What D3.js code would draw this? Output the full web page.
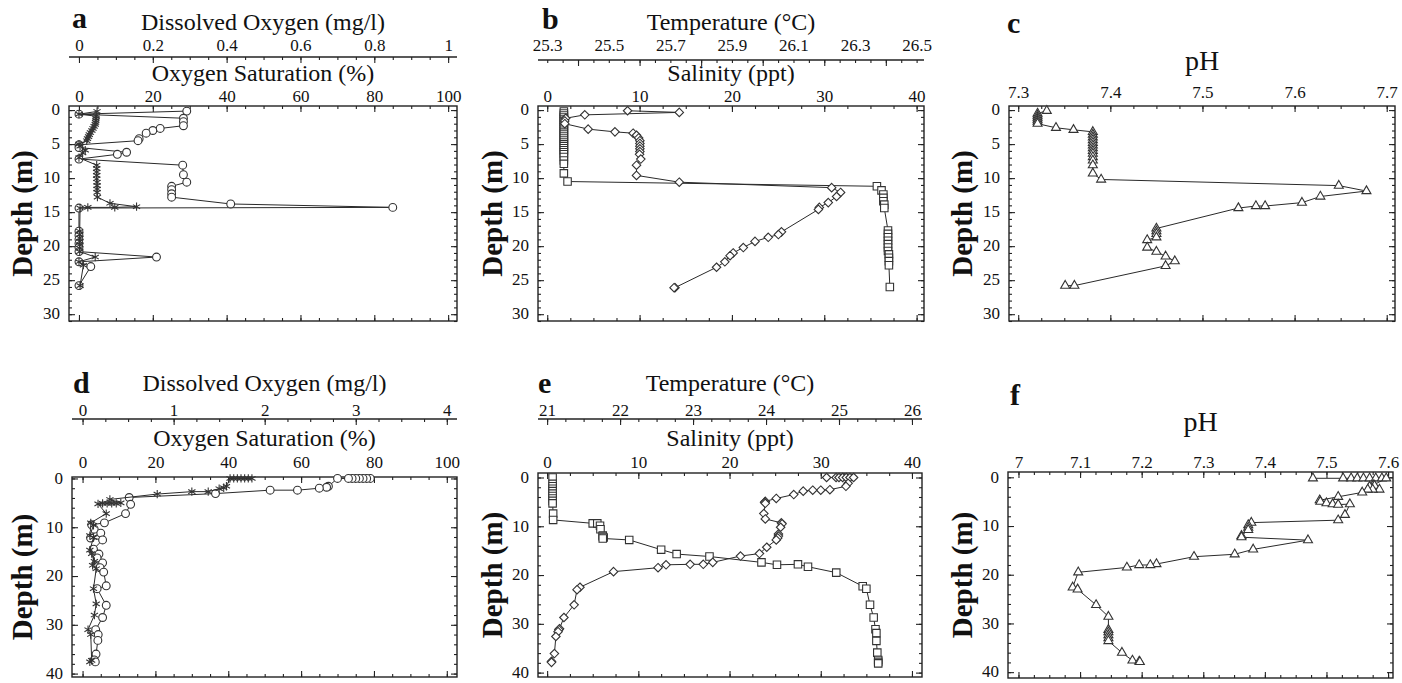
<!DOCTYPE html>
<html>
<head>
<meta charset="utf-8">
<script src="https://cdn.jsdelivr.net/npm/d3@7"></script>
<style>
  body { margin: 0; background: #fff; }
</style>
</head>
<body>
<div id="chart"></div>
<script>
//--------------------------------------------------------------
// DATA  (each pair is [depth m, value])
//--------------------------------------------------------------
// panel a - oxygen saturation (%) and dissolved oxygen (mg/l)
var aSaturation = [[0.15,29.2],[0.6,0],[1.2,28.3],[1.7,28.3],[2.3,28.3],[2.7,22],[3.0,20],[3.4,18.2],[4.2,16.3],[4.5,16],
  [5.1,0],[5.5,0],[6.2,12.9],[6.5,10.4],[7.2,0],[8.1,28.1],[9.5,28.3],[10.6,29.2],[11.2,25.1],[11.7,25.1],[12.3,25.1],
  [12.8,25.1],[13.8,41.1],[14.3,85],[14.4,0],[17.8,0],[18.4,0],[19.0,0],[19.6,0],[20.2,0],[20.8,0],[21.6,21],[22.3,0],
  [23.0,3.2],[25.8,0]];
var aOxygen = [[0.2,0.049],[0.6,0.0],[0.9,0.047],[1.2,0.046],[1.5,0.046],[1.8,0.045],[2.1,0.044],[2.4,0.041],[2.7,0.038],
  [3.0,0.035],[3.3,0.031],[3.6,0.028],[3.9,0.026],[4.2,0.023],[4.5,0.021],[5.0,0.0],[5.3,0.003],[5.9,0.017],[6.3,0.01],
  [7.0,0.0],[8.1,0.048],[8.6,0.048],[9.1,0.048],[9.6,0.048],[10.1,0.048],[10.6,0.049],[11.1,0.049],[11.6,0.049],
  [12.1,0.049],[12.8,0.05],[13.7,0.084],[14.2,0.156],[14.3,0.097],[14.3,0.024],[14.4,0.003],[17.8,0.002],
  [18.3,0.002],[18.8,0.002],[19.3,0.002],[19.8,0.002],[20.3,0.002],[20.8,0.002],[21.6,0.044],[22.3,0.0],[22.8,0.012],
  [25.8,0.003]];

// panel b - salinity (ppt) and temperature (C)
var bSalinity = [[0.2,1.8],[0.5,1.8],[0.8,1.8],[1.1,1.8],[1.4,1.8],[1.7,1.8],[2.0,1.8],[2.3,1.8],[2.6,1.8],[2.9,1.8],
  [3.2,1.8],[3.5,1.8],[3.8,1.8],[4.1,1.8],[4.4,1.8],[4.7,1.8],[5.0,1.8],[5.3,1.8],[5.6,1.8],[5.9,1.8],[6.2,1.8],[6.5,1.8],
  [6.9,1.8],[7.4,1.8],[7.9,1.8],[9.3,1.8],[10.5,2.2],[11.2,35.7],[11.8,36.2],[12.4,36.4],[12.9,36.4],[13.4,36.4],
  [13.9,36.5],[14.4,36.5],[17.7,36.9],[18.2,36.9],[18.7,36.9],[19.2,36.9],[19.7,36.9],[20.2,36.9],[20.7,36.9],
  [21.2,37.0],[21.7,37.0],[22.2,37.0],[22.8,37.0],[26.0,37.1]];
var bTemperature = [[0.1,25.561],[0.34,25.729],[0.7,25.422],[1.2,25.36],[1.6,25.357],[2.0,25.357],[2.8,25.433],
  [3.2,25.52],[3.4,25.579],[3.7,25.59],[4.1,25.597],[4.5,25.601],[4.9,25.601],[5.3,25.601],[5.7,25.601],[6.1,25.601],
  [6.5,25.6],[7.2,25.604],[8.1,25.59],[9.6,25.59],[10.6,25.729],[11.4,26.224],[12.1,26.253],[12.7,26.24],[13.6,26.213],
  [14.3,26.184],[14.6,26.181],[17.9,26.061],[18.3,26.051],[18.7,26.018],[19.3,25.975],[20.2,25.937],[21.0,25.904],
  [21.4,25.894],[22.3,25.877],[23.1,25.85],[26.1,25.715],[26.1,25.712]];

// panel c - pH
var cPH = [[0.1,7.331],[0.5,7.321],[0.8,7.321],[1.1,7.321],[1.4,7.321],[1.7,7.321],[2.0,7.321],[2.6,7.341],[2.9,7.36],
  [3.2,7.381],[3.6,7.381],[4.0,7.381],[4.4,7.381],[4.8,7.381],[5.2,7.381],[5.6,7.381],[6.0,7.381],[6.4,7.381],
  [6.9,7.381],[7.4,7.381],[8.1,7.381],[9.3,7.381],[10.2,7.39],[11.1,7.648],[11.9,7.678],[12.7,7.628],[13.6,7.608],
  [14.1,7.568],[14.1,7.558],[14.4,7.539],[17.4,7.45],[17.8,7.45],[18.2,7.45],[18.7,7.45],[19.1,7.44],[20.2,7.44],
  [20.8,7.45],[21.5,7.46],[22.2,7.47],[22.9,7.46],[25.8,7.361],[25.8,7.351]];

// panel d - oxygen saturation (%) and dissolved oxygen (mg/l)
var dSaturation = [[0,79],[0,78],[0,77],[0,76],[0,75],[0,74],[0,73],[0,70],[1.6,67.5],[1.8,67],[2.0,65],[2.4,59],
  [2.4,51.5],[3.1,36.5],[3.9,12.8],[5.3,13.2],[7.2,11.8],[9.1,6],[9.5,2.5],[10.4,3.2],[11.2,5],[12.2,2.2],[12.6,5.5],
  [14.5,3],[15.5,4.5],[16.3,4],[17.3,5.5],[18.3,4.8],[19.2,5.8],[22,6.5],[22.6,4],[26,6.5],[28.5,5.5],[31,3.6],
  [32,4.3],[33.2,4.2],[36,3.7],[37.2,3.2],[37.6,3.5]];
var dOxygen = [[0,1.86],[0,1.82],[0,1.78],[0,1.74],[0,1.7],[0,1.66],[0,1.62],[1.6,1.58],[1.9,1.55],[2.1,1.5],
  [2.7,1.38],[2.7,1.2],[3.2,0.82],[4.3,0.3],[5.0,0.42],[5.1,0.37],[5.1,0.32],[5.1,0.27],[5.1,0.22],[5.2,0.17],
  [7.2,0.26],[9.1,0.09],[9.6,0.12],[11.7,0.08],[12.1,0.12],[14.7,0.08],[15.4,0.1],[17,0.13],[17.8,0.11],[18.5,0.15],
  [22.6,0.12],[25.7,0.15],[28,0.13],[31,0.06],[32,0.09],[37.3,0.1],[37.6,0.08]];

// panel e - salinity (ppt) and temperature (C)
var eSalinity = [[0,0.6],[1.3,0.6],[1.8,0.6],[2.3,0.6],[2.8,0.6],[3.3,0.6],[3.8,0.6],[4.3,0.6],[4.8,0.6],[5.3,0.6],
  [7.4,0.66],[8.7,0.66],[9.4,5.0],[9.4,5.5],[9.9,5.8],[10.6,5.85],[11.9,6.1],[12.1,6.1],[12.3,6.2],[12.5,6.1],
  [12.8,9.0],[14.8,12.5],[15.7,14.2],[16.2,17.8],[17.4,23.5],[17.9,25.2],[17.8,27.5],[18.3,28.6],[19.5,31.7],
  [22.3,34.6],[22.8,35.0],[26.1,35.4],[28.7,35.8],[31.1,36.0],[31.9,36.1],[33.5,36.1],[35.9,36.2],[37.4,36.3],
  [37.8,36.3],[38.1,36.3]];
var eTemperature = [[0,24.83],[0,24.96],[0,25.0],[0,25.05],[0,25.1],[0,25.15],[0,25.2],[1.2,25.125],[1.8,25.095],
  [2.5,24.875],[2.6,24.75],[2.6,24.64],[2.8,24.51],[3.5,24.38],[4.3,24.14],[4.9,23.99],[5.1,23.98],[5.3,23.99],
  [7.4,23.97],[8.5,23.99],[9.3,24.21],[9.5,24.22],[10.2,24.2],[11.6,24.17],[12.0,24.17],[12.4,24.16],[12.8,24.14],
  [14.3,24.01],[15.6,23.91],[16.1,23.65],[17.4,23.27],[17.8,23.14],[17.8,22.96],[17.9,22.63],[18.5,22.52],
  [19.3,21.91],[22.5,21.45],[23.0,21.41],[26.1,21.37],[28.7,21.23],[31.0,21.17],[31.2,21.16],[31.6,21.15],
  [32.6,21.12],[36.1,21.1],[37.7,21.06],[37.9,21.06]];

// panel f - pH
var fPH = [[0.2,7.478],[0.2,7.527],[0.2,7.54],[0.2,7.55],[0.2,7.56],[0.2,7.57],[0.2,7.58],[0.2,7.59],[0.2,7.597],
  [1.6,7.576],[1.7,7.578],[1.9,7.57],[2.5,7.586],[2.5,7.575],[2.5,7.567],[3.1,7.558],[4.0,7.519],[4.7,7.489],
  [5.0,7.49],[5.3,7.5],[5.5,7.51],[5.6,7.519],[5.5,7.538],[7.7,7.53],[8.8,7.519],[9.3,7.378],[9.8,7.373],
  [10.3,7.373],[10.8,7.373],[12.0,7.362],[12.3,7.362],[12.9,7.47],[14.8,7.381],[15.8,7.351],[16.3,7.285],
  [17.8,7.224],[18.0,7.214],[18.0,7.196],[18.5,7.176],[19.5,7.097],[22.6,7.088],[23.0,7.096],[26.2,7.126],
  [28.6,7.146],[31.3,7.146],[31.8,7.146],[32.4,7.146],[33.0,7.146],[33.6,7.146],[36.0,7.168],[37.6,7.185],
  [37.8,7.196],[37.9,7.197]];

// axis tick labels
var satTicks = [0, 20, 40, 60, 80, 100];
var doTicksA = [0, 0.2, 0.4, 0.6, 0.8, 1];
var doTicksD = [0, 1, 2, 3, 4];
var salTicks = [0, 10, 20, 30, 40];
var tempTicksB = [25.3, 25.5, 25.7, 25.9, 26.1, 26.3, 26.5];
var tempTicksE = [21, 22, 23, 24, 25, 26];
var phTicksC = [7.3, 7.4, 7.5, 7.6, 7.7];
var phTicksF = [7, 7.1, 7.2, 7.3, 7.4, 7.5, 7.6];
var depthTicksTop = [0, 5, 10, 15, 20, 25, 30];
var depthTicksBottom = [0, 10, 20, 30, 40];

//--------------------------------------------------------------
// SVG
//--------------------------------------------------------------
var width = 1402;
var height = 683;
var serif = '"Liberation Serif", "Times New Roman", Times, serif';

var svg = d3.select("#chart").append("svg")
   .attr("width", width)
   .attr("height", height)
   .attr("font-family", serif);

var tickFont = 17;
var titleFont = 24;

// tick values between lo and hi with a step (axis decoration only)
function steps(lo, hi, step) {
   var out = [];
   var k = Math.ceil(lo / step - 1e-9);
   while (k * step <= hi + 1e-9) {
      out.push(+(k * step).toFixed(6));
      k++;
   }
   return out;
}

function fmt(v) {
   return String(+v.toFixed(3));
}

// ticks inside the plot box on all four sides
function boxTicks(g, p, x, y) {
   var sides = [
      { axis: d3.axisBottom(x), at: `translate(0,${p.t})` },
      { axis: d3.axisTop(x), at: `translate(0,${p.b})` }
   ];
   sides.forEach(s => {
      [[p.xMinor, 3], [p.xMajor, 6]].forEach(([step, len]) => {
         g.append("g").attr("transform", s.at)
            .call(s.axis.tickValues(steps(x.domain()[0], x.domain()[1], step)).tickSize(len).tickFormat(""))
            .call(a => a.select(".domain").remove());
      });
   });
   var vs = [
      { axis: d3.axisRight(y), at: `translate(${p.l},0)` },
      { axis: d3.axisLeft(y), at: `translate(${p.r},0)` }
   ];
   vs.forEach(s => {
      [[p.yMinor, 3], [p.yMajor, 6]].forEach(([step, len]) => {
         g.append("g").attr("transform", s.at)
            .call(s.axis.tickValues(steps(Math.max(0, y.domain()[0]), y.domain()[1], step)).tickSize(len).tickFormat(""))
            .call(a => a.select(".domain").remove());
      });
   });
   g.selectAll(".tick line").attr("stroke", "#222").attr("stroke-width", 1.1);
}

function drawSeries(g, data, x, y, shape) {
   var line = d3.line().x(d => x(d[1])).y(d => y(d[0]));
   g.append("path")
      .datum(data)
      .attr("d", line)
      .attr("fill", "none")
      .attr("stroke", "#2a2a2a")
      .attr("stroke-width", 1);

   var sym = {
      circle: d3.symbol(d3.symbolCircle, 48),
      asterisk: d3.symbol(d3.symbolAsterisk, 48),
      square: d3.symbol(d3.symbolSquare, 56),
      diamond: d3.symbol(d3.symbolDiamond2, 46),
      triangle: d3.symbol(d3.symbolTriangle2, 58)
   }[shape];

   g.selectAll(null)
      .data(data)
      .enter()
      .append("path")
      .attr("d", sym)
      .attr("transform", d => `translate(${x(d[1])},${y(d[0])})`)
      .attr("fill", shape === "asterisk" ? "none" : "#fff")
      .attr("stroke", "#333")
      .attr("stroke-width", 1.1);
}

function styleLabels(axisG) {
   axisG.attr("font-family", serif);
   axisG.select(".domain").remove();
   axisG.selectAll("text").attr("font-size", tickFont).attr("fill", "#111");
}

function drawPanel(p) {
   var g = svg.append("g");
   var x = d3.scaleLinear().domain(p.xDomain).range([p.l, p.r]);
   var y = d3.scaleLinear().domain(p.yDomain).range([p.t, p.b]);

   // top labelled x axis (just above the box)
   var top = g.append("g")
      .attr("transform", `translate(0,${p.t})`)
      .call(d3.axisTop(x).tickValues(p.xLabels).tickSize(0).tickPadding(p.xLabelPad).tickFormat(fmt));
   styleLabels(top);

   // depth labels
   var left = g.append("g")
      .attr("transform", `translate(${p.l},0)`)
      .call(d3.axisLeft(y).tickValues(p.yLabels).tickSize(0).tickPadding(9).tickFormat(fmt));
   styleLabels(left);
   left.selectAll("text").attr("dy", "0.28em");

   boxTicks(g, p, x, y);

   // second axis (dissolved oxygen / temperature) sharing the same pixel span
   var x2 = null;
   if (p.second) {
      var s = p.second;
      x2 = d3.scaleLinear().domain(s.domain).range([p.l, p.r]);
      g.append("line")
         .attr("x1", p.l).attr("x2", p.r)
         .attr("y1", s.lineY).attr("y2", s.lineY)
         .attr("stroke", "#222").attr("stroke-width", 1.3);
      [[s.minor, 3], [s.major, 6]].forEach(([step, len]) => {
         g.append("g").attr("transform", `translate(0,${s.lineY})`)
            .call(d3.axisBottom(x2).tickValues(steps(s.domain[0], s.domain[1], step)).tickSize(len).tickFormat(""))
            .call(a => a.select(".domain").remove())
            .selectAll("line").attr("stroke", "#222").attr("stroke-width", 1.1);
      });
      var lab = g.append("g")
         .attr("transform", `translate(0,${s.lineY})`)
         .call(d3.axisTop(x2).tickValues(s.labels).tickSize(0).tickPadding(s.pad).tickFormat(fmt));
      styleLabels(lab);

      g.append("text")
         .attr("x", (p.l + p.r) / 2)
         .attr("y", s.titleY)
         .attr("text-anchor", "middle")
         .attr("font-size", titleFont)
         .attr("fill", "#111")
         .text(s.title);
   }

   // box
   g.append("rect")
      .attr("x", p.l).attr("y", p.t)
      .attr("width", p.r - p.l).attr("height", p.b - p.t)
      .attr("fill", "none")
      .attr("stroke", "#222")
      .attr("stroke-width", 1.4);

   // series
   var plot = g.append("g");
   p.series.forEach(sr => {
      drawSeries(plot, sr.data, sr.second ? x2 : x, y, sr.shape);
   });

   // titles
   g.append("text")
      .attr("x", (p.l + p.r) / 2)
      .attr("y", p.titleY)
      .attr("text-anchor", "middle")
      .attr("font-size", p.titleSize || titleFont)
      .attr("fill", "#111")
      .text(p.title);

   g.append("text")
      .attr("x", p.letter[1])
      .attr("y", p.letter[2])
      .attr("font-size", 30)
      .attr("font-weight", "bold")
      .attr("fill", "#111")
      .text(p.letter[0]);

   g.append("text")
      .attr("transform", `translate(${p.depthX},${(p.t + p.b) / 2}) rotate(-90)`)
      .attr("text-anchor", "middle")
      .attr("dy", "0.35em")
      .attr("font-size", 29)
      .attr("font-weight", "bold")
      .attr("fill", "#111")
      .text("Depth (m)");
}

//--------------------------------------------------------------
// PANELS
//--------------------------------------------------------------
var panels = [
   {
      letter: ["a", 72, 28], l: 69, r: 457, t: 106, b: 321,
      xDomain: [-2.7, 102.4], yDomain: [-0.6, 31.0],
      xLabels: satTicks, xLabelPad: 4, xMajor: 20, xMinor: 5,
      yLabels: depthTicksTop, yMajor: 5, yMinor: 1,
      title: "Oxygen Saturation (%)", titleY: 81, depthX: 22,
      second: { domain: [-0.027, 1.024], labels: doTicksA, major: 0.2, minor: 0.05, lineY: 57, pad: 6,
                title: "Dissolved Oxygen (mg/l)", titleY: 30 },
      series: [{ data: aSaturation, shape: "circle" }, { data: aOxygen, shape: "asterisk", second: true }]
   },
   {
      letter: ["b", 542, 29], l: 538, r: 924, t: 106, b: 321,
      xDomain: [-1.0, 40.8], yDomain: [-0.6, 31.0],
      xLabels: salTicks, xLabelPad: 4, xMajor: 10, xMinor: 2.5,
      yLabels: depthTicksTop, yMajor: 5, yMinor: 1,
      title: "Salinity (ppt)", titleY: 81, depthX: 492,
      second: { domain: [25.27, 26.524], labels: tempTicksB, major: 0.2, minor: 0.05, lineY: 60, pad: 9,
                title: "Temperature (\u00B0C)", titleY: 30 },
      series: [{ data: bSalinity, shape: "square" }, { data: bTemperature, shape: "diamond", second: true }]
   },
   {
      letter: ["c", 1007, 33], l: 1009, r: 1395, t: 106, b: 321,
      xDomain: [7.29, 7.709], yDomain: [-0.6, 31.0],
      xLabels: phTicksC, xLabelPad: 8, xMajor: 0.1, xMinor: 0.025,
      yLabels: depthTicksTop, yMajor: 5, yMinor: 1,
      title: "pH", titleY: 70, titleSize: 28, depthX: 962,
      series: [{ data: cPH, shape: "triangle" }]
   },
   {
      letter: ["d", 73, 393], l: 72, r: 457, t: 477, b: 677,
      xDomain: [-2.9, 102.8], yDomain: [-0.3, 40.7],
      xLabels: satTicks, xLabelPad: 9, xMajor: 20, xMinor: 5,
      yLabels: depthTicksBottom, yMajor: 10, yMinor: 2,
      title: "Oxygen Saturation (%)", titleY: 446, depthX: 22,
      second: { domain: [-0.116, 4.112], labels: doTicksD, major: 1, minor: 0.25, lineY: 419, pad: 3,
                title: "Dissolved Oxygen (mg/l)", titleY: 391 },
      series: [{ data: dSaturation, shape: "circle" }, { data: dOxygen, shape: "asterisk", second: true }]
   },
   {
      letter: ["e", 538, 393], l: 538, r: 922, t: 473, b: 677,
      xDomain: [-1.0, 41.1], yDomain: [-0.92, 40.9],
      xLabels: salTicks, xLabelPad: 5, xMajor: 10, xMinor: 2.5,
      yLabels: depthTicksBottom, yMajor: 10, yMinor: 2,
      title: "Salinity (ppt)", titleY: 446, depthX: 492,
      second: { domain: [20.875, 26.1375], labels: tempTicksE, major: 1, minor: 0.25, lineY: 419, pad: 3,
                title: "Temperature (\u00B0C)", titleY: 391 },
      series: [{ data: eSalinity, shape: "square" }, { data: eTemperature, shape: "diamond", second: true }]
   },
   {
      letter: ["f", 1010, 405], l: 1008, r: 1393, t: 472, b: 678,
      xDomain: [6.983, 7.608], yDomain: [-1.09, 41.2],
      xLabels: phTicksF, xLabelPad: 4, xMajor: 0.1, xMinor: 0.025,
      yLabels: depthTicksBottom, yMajor: 10, yMinor: 2,
      title: "pH", titleY: 431, titleSize: 28, depthX: 962,
      series: [{ data: fPH, shape: "triangle" }]
   }
];

panels.forEach(drawPanel);
</script>
</body>
</html>
